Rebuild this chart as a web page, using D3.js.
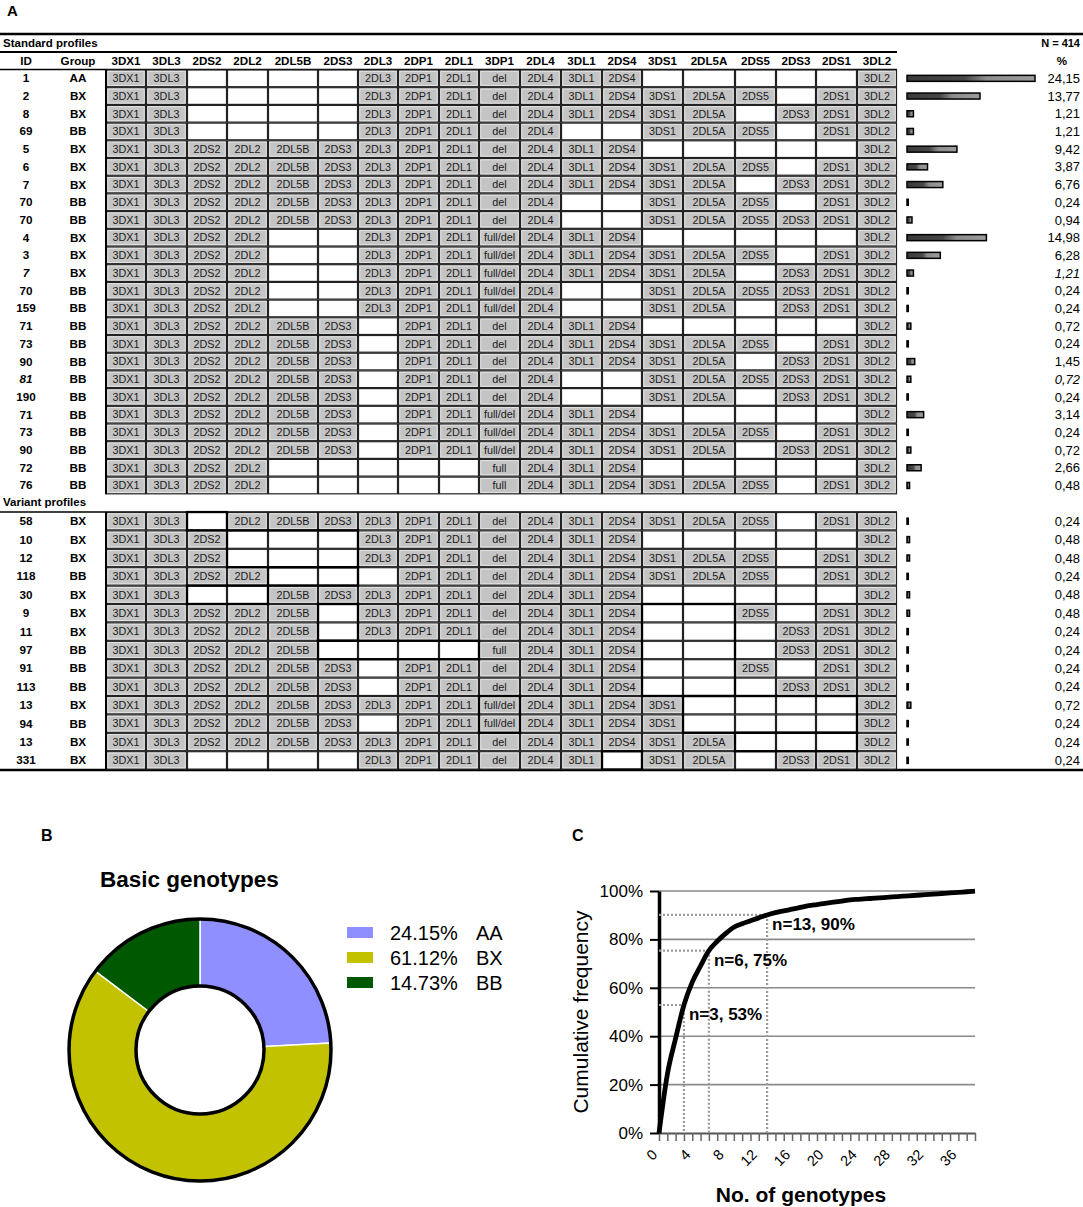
<!DOCTYPE html>
<html>
<head>
<meta charset="utf-8">
<script src="https://cdn.jsdelivr.net/npm/d3@7"></script>
<style>
  body { margin: 0; background: #fff; }
  svg { display: block; font-family: "Liberation Sans", Arial, sans-serif; }
</style>
</head>
<body>
<svg id="fig" width="1083" height="1207"></svg>
<script>
// Gene columns of the profile table (the second 2DS3 is the telomeric copy)
var geneColumns = ["3DX1", "3DL3", "2DS2", "2DL2", "2DL5B", "2DS3", "2DL3", "2DP1", "2DL1", "3DP1",
                   "2DL4", "3DL1", "2DS4", "3DS1", "2DL5A", "2DS5", "2DS3", "2DS1", "3DL2"];
var colWidths = [40, 41, 40, 41, 50, 40, 40, 41, 40, 41, 41, 41, 40, 41, 52, 41, 40, 41, 40];

// profile strings: 1 = present, 0 = absent; 3DP1 column: d = del, b = full/del, f = full
var standardIds = ["1", "2", "8", "69", "5", "6", "7", "70", "70", "4", "3", "7", "70", "159",
                   "71", "73", "90", "81", "190", "71", "73", "90", "72", "76"];
var standardGroups = ["AA", "BX", "BX", "BB", "BX", "BX", "BX", "BB", "BB", "BX", "BX", "BX", "BB", "BB",
                      "BB", "BB", "BB", "BB", "BB", "BB", "BB", "BB", "BB", "BB"];
var standardProfiles = [
  "110000 111 d 111 00000 1", "110000 111 d 111 11101 1", "110000 111 d 111 11011 1",
  "110000 111 d 100 11101 1", "111111 111 d 111 00000 1", "111111 111 d 111 11101 1",
  "111111 111 d 111 11011 1", "111111 111 d 100 11101 1", "111111 111 d 100 11111 1",
  "111100 111 b 111 00000 1", "111100 111 b 111 11101 1", "111100 111 b 111 11011 1",
  "111100 111 b 100 11111 1", "111100 111 b 100 11011 1", "111111 011 d 111 00000 1",
  "111111 011 d 111 11101 1", "111111 011 d 111 11011 1", "111111 011 d 100 11111 1",
  "111111 011 d 100 11011 1", "111111 011 b 111 00000 1", "111111 011 b 111 11101 1",
  "111111 011 b 111 11011 1", "111100 000 f 111 00000 1", "111100 000 f 111 11101 1"];
var standardPercent = [24.15, 13.77, 1.21, 1.21, 9.42, 3.87, 6.76, 0.24, 0.94, 14.98, 6.28, 1.21,
                       0.24, 0.24, 0.72, 0.24, 1.45, 0.72, 0.24, 3.14, 0.24, 0.72, 2.66, 0.48];
var standardItalic = [11, 17];

var variantIds = ["58", "10", "12", "118", "30", "9", "11", "97", "91", "113", "13", "94", "13", "331"];
var variantGroups = ["BX", "BX", "BX", "BB", "BX", "BX", "BX", "BB", "BB", "BB", "BX", "BB", "BX", "BX"];
var variantProfiles = [
  "110111 111 d 111 11101 1", "111000 111 d 111 00000 1", "111000 111 d 111 11101 1",
  "111100 011 d 111 11101 1", "110011 111 d 111 00000 1", "111110 111 d 111 00101 1",
  "111110 111 d 111 00011 1", "111110 000 f 111 00011 1", "111111 011 d 111 00101 1",
  "111111 011 d 111 00011 1", "111111 111 b 111 10000 1", "111111 011 b 111 10000 1",
  "111111 111 d 111 11000 1", "110000 111 d 110 11011 1"];
var variantPercent = [0.24, 0.48, 0.48, 0.24, 0.48, 0.48, 0.24, 0.24, 0.24, 0.24, 0.72, 0.24, 0.24, 0.24];
// outlined blocks: [first row, last row, first column, last column]
var variantBoxes = [[0, 0, 2, 2], [1, 2, 3, 5], [3, 3, 4, 5], [4, 4, 2, 3], [5, 6, 5, 5], [7, 7, 5, 8],
                    [5, 9, 13, 14], [10, 11, 9, 9], [10, 11, 14, 17], [12, 12, 15, 17], [13, 13, 12, 12]];

var genotypeNames = ["AA", "BX", "BB"];
var genotypePercent = [24.15, 61.12, 14.73];
var genotypeColors = ["#8f8fff", "#c2c200", "#005800"];

// cumulative frequency (%) against number of genotypes, 0..38
var cumulativeFreq = [0, 24.15, 39.13, 52.90, 62.32, 69.08, 75.36, 79.23, 82.37, 85.03, 86.48, 87.69,
                      88.90, 90.11, 91.05, 91.77, 92.49, 93.21, 93.93, 94.41, 94.89, 95.37, 95.85,
                      96.33, 96.57, 96.81, 97.05, 97.29, 97.53, 97.77, 98.01, 98.25, 98.49, 98.73,
                      98.97, 99.21, 99.45, 99.69, 99.93];
var markedCounts = [3, 6, 13];
var markedLabels = ["n=3, 53%", "n=6, 75%", "n=13, 90%"];

var svg = d3.select("#fig");
var threeP1 = { d: "del", b: "full/del", f: "full" };

// ---------- Panel A ----------
svg.append("text").attr("x", 7).attr("y", 16).attr("font-size", 15).attr("font-weight", "bold").text("A");

var colX = [106];
colWidths.forEach(function (w) { colX.push(colX[colX.length - 1] + w); });
var gridRight = colX[colX.length - 1];

var barX = d3.scaleLinear().domain([0, 24.15]).range([907, 1035]);

var defs = svg.append("defs");
var grad = defs.append("linearGradient").attr("id", "barGrad");
grad.append("stop").attr("offset", "0%").attr("stop-color", "#3a3a3a");
grad.append("stop").attr("offset", "45%").attr("stop-color", "#474747");
grad.append("stop").attr("offset", "62%").attr("stop-color", "#8c8c8c");
grad.append("stop").attr("offset", "100%").attr("stop-color", "#9c9c9c");

// frame lines
svg.append("line").attr("x1", 0).attr("x2", 1083).attr("y1", 34).attr("y2", 34)
  .attr("stroke", "#000").attr("stroke-width", 2.5);
svg.append("line").attr("x1", 0).attr("x2", 1083).attr("y1", 770).attr("y2", 770)
  .attr("stroke", "#000").attr("stroke-width", 2.5);
svg.append("line").attr("x1", 0).attr("x2", gridRight).attr("y1", 52).attr("y2", 52)
  .attr("stroke", "#000").attr("stroke-width", 2);
svg.append("line").attr("x1", 0).attr("x2", gridRight).attr("y1", 69.5).attr("y2", 69.5)
  .attr("stroke", "#000").attr("stroke-width", 1.5);
svg.append("line").attr("x1", 0).attr("x2", gridRight).attr("y1", 512).attr("y2", 512)
  .attr("stroke", "#000").attr("stroke-width", 1.5);

svg.append("text").attr("x", 3).attr("y", 47).attr("font-size", 11.5).attr("font-weight", "bold")
  .text("Standard profiles");
svg.append("text").attr("x", 3).attr("y", 506).attr("font-size", 11.5).attr("font-weight", "bold")
  .text("Variant profiles");
svg.append("text").attr("x", 1080).attr("y", 47).attr("font-size", 11).attr("font-weight", "bold")
  .attr("text-anchor", "end").text("N = 414");

// header row
var header = svg.append("g").attr("font-size", 11.6).attr("font-weight", "bold").attr("text-anchor", "middle");
header.append("text").attr("x", 26).attr("y", 64.5).text("ID");
header.append("text").attr("x", 78).attr("y", 64.5).text("Group");
header.append("text").attr("x", 1062).attr("y", 64.5).text("%");
header.selectAll("text.gene").data(geneColumns).enter().append("text")
  .attr("class", "gene")
  .attr("x", function (d, i) { return (colX[i] + colX[i + 1]) / 2; })
  .attr("y", 64.5)
  .text(function (d) { return d; });

function drawSection(ids, groups, profiles, percents, italicRows, top, rowH) {
  var n = ids.length;
  var rowY = d3.scaleLinear().domain([0, n]).range([top, top + n * rowH]);
  var rows = ids.map(function (id, i) {
    return { i: i, id: id, group: groups[i], profile: profiles[i].replace(/ /g, ""),
             pct: percents[i], italic: italicRows.indexOf(i) >= 0 };
  });
  var g = svg.append("g");

  var row = g.selectAll("g.row").data(rows).enter().append("g").attr("class", "row");

  row.append("text").attr("x", 26).attr("y", function (d) { return rowY(d.i + 0.5) + 4; })
    .attr("text-anchor", "middle").attr("font-size", 11.7).attr("font-weight", "bold")
    .attr("font-style", function (d) { return d.italic ? "italic" : "normal"; })
    .text(function (d) { return d.id; });
  row.append("text").attr("x", 78).attr("y", function (d) { return rowY(d.i + 0.5) + 4; })
    .attr("text-anchor", "middle").attr("font-size", 11.7).attr("font-weight", "bold")
    .text(function (d) { return d.group; });

  var cell = row.selectAll("g.cell")
    .data(function (d) {
      return geneColumns.map(function (gname, c) {
        var ch = d.profile[c];
        return { r: d.i, c: c, on: ch !== "0", label: c === 9 ? threeP1[ch] : gname };
      });
    })
    .enter().append("g").attr("class", "cell");

  cell.append("rect")
    .attr("x", function (d) { return colX[d.c] + 0.5; })
    .attr("y", function (d) { return rowY(d.r) + 0.5; })
    .attr("width", function (d) { return colWidths[d.c] - 1; })
    .attr("height", rowH - 1)
    .attr("fill", function (d) { return d.on ? "#c4c4c4" : "#fff"; })
    .attr("stroke", "#222").attr("stroke-width", 1.2);
  cell.filter(function (d) { return d.on; }).append("rect")
    .attr("x", function (d) { return colX[d.c] + 1.8; })
    .attr("y", function (d) { return rowY(d.r) + 1.8; })
    .attr("width", function (d) { return colWidths[d.c] - 3.6; })
    .attr("height", rowH - 3.6)
    .attr("fill", "none").attr("stroke", "#e6e6e6").attr("stroke-width", 0.9);
  cell.filter(function (d) { return d.on; }).append("text")
    .attr("x", function (d) { return colX[d.c] + colWidths[d.c] / 2; })
    .attr("y", function (d) { return rowY(d.r + 0.5) + 3.8; })
    .attr("text-anchor", "middle").attr("font-size", 10.8).attr("fill", "#1a1a1a")
    .text(function (d) { return d.label; });

  // frequency bars
  row.append("rect")
    .attr("x", barX(0))
    .attr("y", function (d) { return rowY(d.i + 0.5) - 3; })
    .attr("width", function (d) { return barX(d.pct) - barX(0); })
    .attr("height", 6)
    .attr("fill", "url(#barGrad)").attr("stroke", "#000").attr("stroke-width", 1.5);
  row.append("text").attr("x", 1080).attr("y", function (d) { return rowY(d.i + 0.5) + 4.6; })
    .attr("text-anchor", "end").attr("font-size", 13)
    .attr("font-style", function (d) { return d.italic ? "italic" : "normal"; })
    .text(function (d) { return d3.format(".2f")(d.pct).replace(".", ","); });

  // grid left border
  g.append("line").attr("x1", colX[0]).attr("x2", colX[0]).attr("y1", rowY(0)).attr("y2", rowY(n))
    .attr("stroke", "#000").attr("stroke-width", 2);
  return rowY;
}

drawSection(standardIds, standardGroups, standardProfiles, standardPercent, standardItalic, 69.5, 17.7);
var variantY = drawSection(variantIds, variantGroups, variantProfiles, variantPercent, [], 512, 18.4);

svg.append("g").selectAll("rect").data(variantBoxes).enter().append("rect")
  .attr("x", function (d) { return colX[d[2]]; })
  .attr("y", function (d) { return variantY(d[0]); })
  .attr("width", function (d) { return colX[d[3] + 1] - colX[d[2]]; })
  .attr("height", function (d) { return variantY(d[1] + 1) - variantY(d[0]); })
  .attr("fill", "none").attr("stroke", "#000").attr("stroke-width", 2.2);

// ---------- Panel B ----------
svg.append("text").attr("x", 41).attr("y", 841).attr("font-size", 16).attr("font-weight", "bold").text("B");
svg.append("text").attr("x", 100).attr("y", 887).attr("font-size", 22.5).attr("font-weight", "bold")
  .text("Basic genotypes");

var pieG = svg.append("g").attr("transform", "translate(200,1050)");
var pie = d3.pie().sort(null).value(function (d) { return d; });
var arc = d3.arc().innerRadius(64).outerRadius(131);
pieG.selectAll("path").data(pie(genotypePercent)).enter().append("path")
  .attr("d", arc)
  .attr("fill", function (d, i) { return genotypeColors[i]; })
  .attr("stroke", "#fff").attr("stroke-width", 1.5);
pieG.append("circle").attr("r", 131).attr("fill", "none").attr("stroke", "#000").attr("stroke-width", 3.5);
pieG.append("circle").attr("r", 64).attr("fill", "none").attr("stroke", "#000").attr("stroke-width", 3.5);

var legend = svg.append("g").selectAll("g").data(genotypeNames).enter().append("g")
  .attr("transform", function (d, i) { return "translate(347," + (927 + i * 25) + ")"; });
legend.append("rect").attr("width", 26).attr("height", 11)
  .attr("fill", function (d, i) { return genotypeColors[i]; });
legend.append("text").attr("x", 43).attr("y", 13).attr("font-size", 20)
  .text(function (d, i) { return d3.format(".2f")(genotypePercent[i]) + "%"; });
legend.append("text").attr("x", 129).attr("y", 13).attr("font-size", 20)
  .text(function (d) { return d; });

// ---------- Panel C ----------
svg.append("text").attr("x", 572).attr("y", 841).attr("font-size", 16).attr("font-weight", "bold").text("C");

var x = d3.scaleLinear().domain([0, 38]).range([659, 975]);
var y = d3.scaleLinear().domain([0, 100]).range([1133, 891]);

var gridG = svg.append("g");
gridG.selectAll("line").data([20, 40, 60, 80, 100]).enter().append("line")
  .attr("x1", x(0)).attr("x2", x(38))
  .attr("y1", function (d) { return y(d); }).attr("y2", function (d) { return y(d); })
  .attr("stroke", "#8a8a8a").attr("stroke-width", 1.6);

var xAxis = svg.append("g").attr("transform", "translate(0," + y(0) + ")")
  .call(d3.axisBottom(x).tickValues(cumulativeFreq.map(function (d, i) { return i; }))
    .tickSize(8).tickSizeOuter(0)
    .tickFormat(function (d) { return d % 4 === 0 ? d : ""; }));
xAxis.select(".domain").attr("stroke", "#555").attr("stroke-width", 2);
xAxis.selectAll(".tick line").attr("stroke", "#666").attr("stroke-width", 1.5);
xAxis.selectAll(".tick text")
  .attr("font-size", 14.5).attr("font-family", "Liberation Sans, Arial, sans-serif")
  .attr("x", 0).attr("y", 0)
  .attr("text-anchor", "end").attr("dy", "0.35em")
  .attr("transform", "translate(-5,19) rotate(-45)");

var yAxis = svg.append("g").attr("transform", "translate(" + x(0) + ",0)")
  .call(d3.axisLeft(y).tickValues([0, 20, 40, 60, 80, 100]).tickSize(9).tickSizeOuter(0)
    .tickFormat(function (d) { return d + "%"; }));
yAxis.select(".domain").attr("stroke", "#000").attr("stroke-width", 3.5);
yAxis.selectAll(".tick line").attr("stroke", "#000").attr("stroke-width", 2);
yAxis.selectAll(".tick text").attr("font-size", 17)
  .attr("font-family", "Liberation Sans, Arial, sans-serif").attr("x", -16).attr("fill", "#000");

// guide lines to the marked points
var guides = svg.append("g").attr("stroke", "#9a9a9a").attr("stroke-width", 2.2)
  .attr("stroke-dasharray", "2,2");
markedCounts.forEach(function (n) {
  guides.append("line").attr("x1", x(0)).attr("x2", x(n))
    .attr("y1", y(cumulativeFreq[n])).attr("y2", y(cumulativeFreq[n]));
  guides.append("line").attr("x1", x(n)).attr("x2", x(n))
    .attr("y1", y(cumulativeFreq[n])).attr("y2", y(0));
});

var line = d3.line()
  .x(function (d, i) { return x(i); })
  .y(function (d) { return y(d); })
  .curve(d3.curveMonotoneX);
svg.append("path").datum(cumulativeFreq).attr("d", line)
  .attr("fill", "none").attr("stroke", "#000").attr("stroke-width", 4.8).attr("stroke-linejoin", "round");

svg.append("g").selectAll("text").data(markedCounts).enter().append("text")
  .attr("x", function (d) { return x(d) + 5; })
  .attr("y", function (d) { return y(cumulativeFreq[d]) + 15.5; })
  .attr("font-size", 17).attr("font-weight", "bold")
  .text(function (d, i) { return markedLabels[i]; });

svg.append("text").attr("transform", "translate(588,1012) rotate(-90)")
  .attr("text-anchor", "middle").attr("font-size", 21).text("Cumulative frequency");
svg.append("text").attr("x", 801).attr("y", 1202).attr("text-anchor", "middle")
  .attr("font-size", 21).attr("font-weight", "bold").text("No. of genotypes");
</script>
</body>
</html>
